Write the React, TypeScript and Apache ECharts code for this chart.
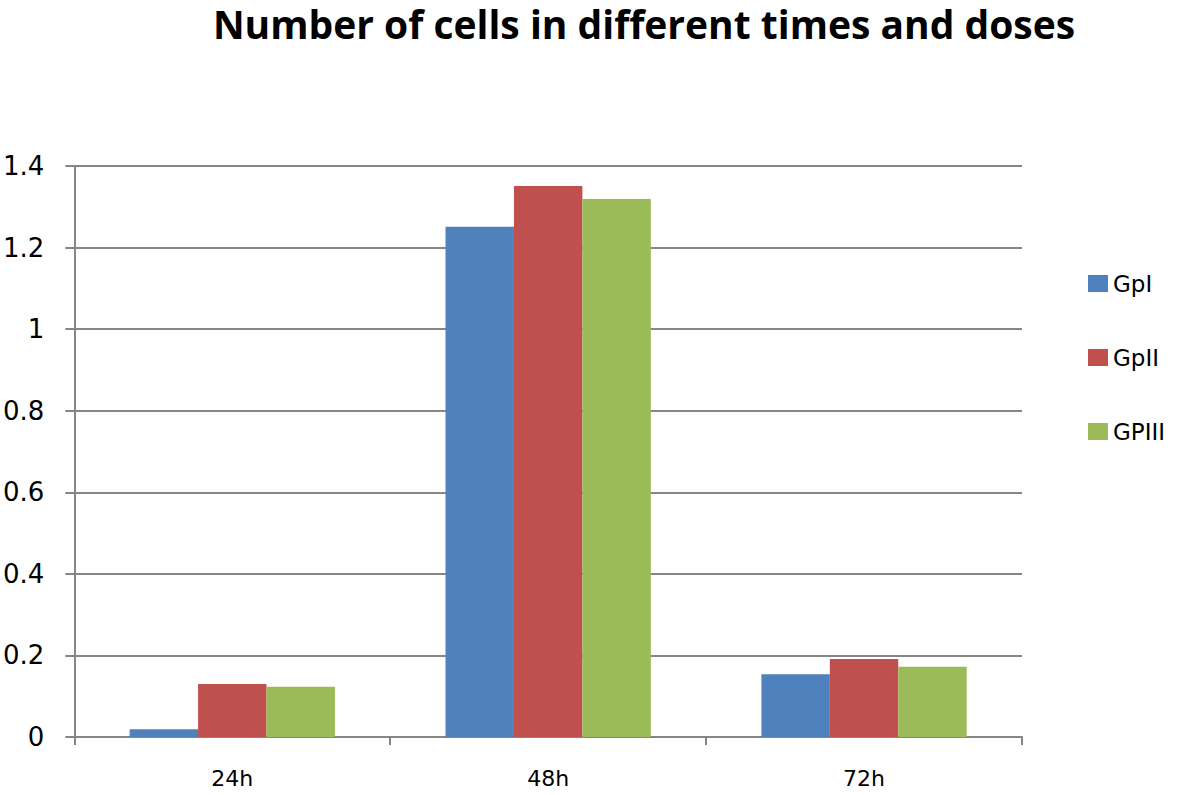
import React, { useEffect, useRef } from "react";
import * as echarts from "echarts";

const categories = ["24h", "48h", "72h"];
const seriesNames = ["GpI", "GpII", "GPIII"];
const gp1 = [0.019, 1.251, 0.154];
const gp2 = [0.13, 1.351, 0.191];
const gp3 = [0.123, 1.319, 0.172];
const colors = ["#4F81BD", "#C0504D", "#9BBB59"];

export default function App() {
  const ref = useRef<HTMLDivElement>(null);
  useEffect(() => {
    if (!ref.current) return;
    const chart = echarts.init(ref.current, undefined, { renderer: "svg" });
    const data = [gp1, gp2, gp3];
    chart.setOption({
      animation: false,
      backgroundColor: "#ffffff",
      title: {
        text: "Number of cells in different times and doses",
        left: 644,
        textAlign: "center",
        top: 3,
        padding: 0,
        textStyle: {
          fontFamily: "Open Sans",
          fontWeight: "bold",
          fontSize: 39,
          lineHeight: 40,
          color: "#000",
        },
      },
      legend: {
        orient: "vertical",
        left: 1088,
        top: 272,
        padding: 0,
        itemGap: 51,
        itemWidth: 20,
        itemHeight: 17,
        icon: "rect",
        textStyle: { fontFamily: "DejaVu Sans", fontSize: 23, color: "#000", padding: [0, 0, 0, 0] },
        data: seriesNames,
      },
      grid: { left: 72, right: 159, top: 166, bottom: 58, containLabel: false },
      xAxis: {
        type: "category",
        data: categories,
        axisLine: { lineStyle: { color: "#868686", width: 2 } },
        axisTick: { show: true, length: 8, lineStyle: { color: "#868686", width: 2 } },
        axisLabel: { fontFamily: "DejaVu Sans", fontSize: 22, color: "#000", margin: 30 },
      },
      yAxis: {
        type: "value",
        min: 0,
        max: 1.4,
        interval: 0.2,
        axisLine: { show: true, lineStyle: { color: "#868686", width: 2 } },
        axisTick: { show: true, length: 9, lineStyle: { color: "#868686", width: 2 } },
        axisLabel: { fontFamily: "DejaVu Sans", fontSize: 26, color: "#000", margin: 30 },
        splitLine: { lineStyle: { color: "#868686", width: 2 } },
      },
      series: seriesNames.map((name, i) => ({
        name,
        type: "bar",
        data: data[i],
        barGap: "0%",
        barCategoryGap: "35%",
        itemStyle: { color: colors[i] },
      })),
    });
    return () => chart.dispose();
  }, []);
  return (
    <div
      ref={ref}
      style={{ position: "fixed", left: 0, top: 0, width: 1181, height: 795 }}
    />
  );
}
